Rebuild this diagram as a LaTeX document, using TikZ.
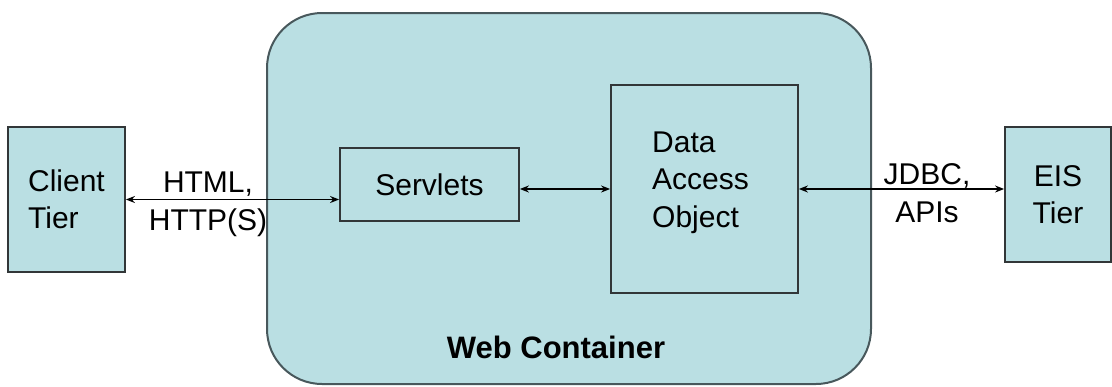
\documentclass[tikz,border=0pt]{standalone}
\usepackage{fontspec}
\setmainfont{Liberation Sans}
\usetikzlibrary{arrows.meta}

\definecolor{paleblue}{RGB}{186,223,227}
\definecolor{rimgray}{RGB}{72,88,92}
\definecolor{edgegray}{RGB}{50,54,56}

\tikzset{
  tierbox/.style={draw=edgegray, line width=1.8pt, fill=paleblue,
    inner sep=0pt, font=\fontsize{30}{37.5}\selectfont},
  container/.style={draw=rimgray, line width=2pt, fill=paleblue,
    rounded corners=55pt},
  lbl/.style={inner sep=0pt, font=\fontsize{30}{37.5}\selectfont, align=center},
  link/.style={draw=black, line width=1.8pt,
    {Stealth[length=9pt,width=7pt]}-{Stealth[length=9pt,width=7pt]}}
}

\begin{document}
\begin{tikzpicture}[x=1pt,y=-1pt]
  \useasboundingbox (0,0) rectangle (1112,386);

  % web container
  \draw[container] (267,13) rectangle (871,384);
  \node[lbl, font=\fontsize{31}{37.5}\selectfont\bfseries, anchor=base]
    (wc) at (556,358) {Web Container};

  % boxes
  \node[tierbox, minimum width=117pt, minimum height=145pt, align=left]
    (client) at (66.5,199.5) {Client\\Tier};
  \node[tierbox, minimum width=179pt, minimum height=73pt]
    (servlets) at (429.5,184.5) {Servlets};
  \node[tierbox, minimum width=187pt, minimum height=208pt]
    (dao) at (704.5,189) {};
  \node[lbl, align=left, anchor=base west] (daotext) at (652,227)
    {Data\\Access\\Object};
  \node[tierbox, minimum width=106pt, minimum height=135pt, align=center]
    (eis) at (1058,194.5) {EIS\\Tier};

  % connectors
  \draw[link] (client.east) -- (servlets.west |- client.east);
  \draw[link] (servlets.east |- dao.west) -- (dao.west);
  \draw[link] (dao.east) -- (eis.west |- dao.east);

  % connector labels
  \node[lbl, anchor=base] (proto) at (208,230) {HTML,\\HTTP(S)};
  \node[lbl, anchor=base] (jdbc) at (927,222) {JDBC,\\APIs};
\end{tikzpicture}
\end{document}
